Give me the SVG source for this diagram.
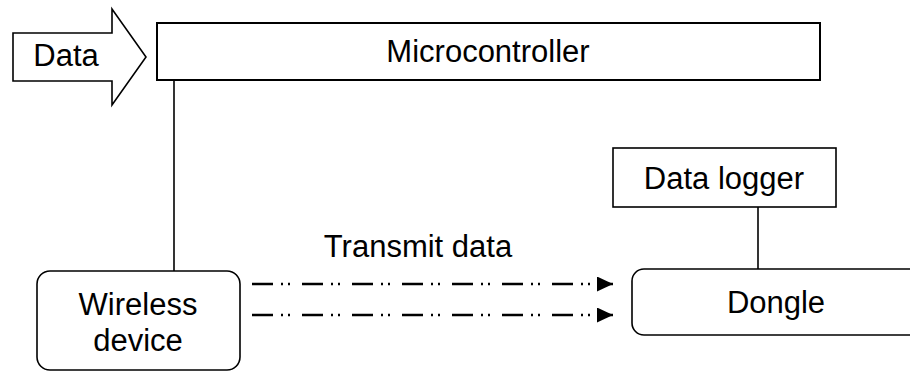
<svg xmlns="http://www.w3.org/2000/svg" width="910" height="372" viewBox="0 0 910 372">
<style>
  .shape { fill: #fff; stroke: #000; stroke-width: 1.6; }
  .lbl { font-family: "Liberation Sans", Arial, sans-serif; font-size: 31px; fill: #000; text-anchor: middle; }
  .wire { stroke: #000; stroke-width: 1.6; fill: none; }
  .flow { stroke: #000; stroke-width: 2.5; fill: none; stroke-dasharray: 21 8 2 5 2 12; }
</style>
<defs>
  <marker id="tri" markerUnits="userSpaceOnUse" markerWidth="16" markerHeight="15" refX="16" refY="7.5" orient="auto">
    <path d="M0,0 L16,7.5 L0,15 Z" fill="#000"/>
  </marker>
</defs>
<rect width="910" height="372" fill="#fff"/>
<g id="connectors">
  <line class="wire" x1="174" y1="80" x2="174" y2="271"/>
  <line class="wire" x1="758" y1="207" x2="758" y2="269"/>
  <line class="flow" x1="252" y1="284" x2="613" y2="284" marker-end="url(#tri)"/>
  <line class="flow" x1="252" y1="315" x2="613" y2="315" marker-end="url(#tri)"/>
  <text class="lbl" x="418" y="257">Transmit data</text>
</g>
<g id="data">
  <polygon class="shape" points="13,33 112,33 112,9 146,57 112,105 112,81 13,81"/>
  <text class="lbl" x="66" y="66">Data</text>
</g>
<g id="microcontroller">
  <rect class="shape" x="157" y="23" width="663" height="57" style="stroke-width:2"/>
  <text class="lbl" x="488" y="62">Microcontroller</text>
</g>
<g id="wireless">
  <rect class="shape" x="37" y="271" width="203" height="99" rx="13"/>
  <text class="lbl" x="138" y="315">Wireless</text>
  <text class="lbl" x="138" y="351">device</text>
</g>
<g id="logger">
  <rect class="shape" x="613" y="148" width="223" height="59"/>
  <text class="lbl" x="724" y="189">Data logger</text>
</g>
<g id="dongle">
  <rect class="shape" x="632" y="269" width="290" height="66" rx="12"/>
  <text class="lbl" x="776" y="313">Dongle</text>
</g>
</svg>
